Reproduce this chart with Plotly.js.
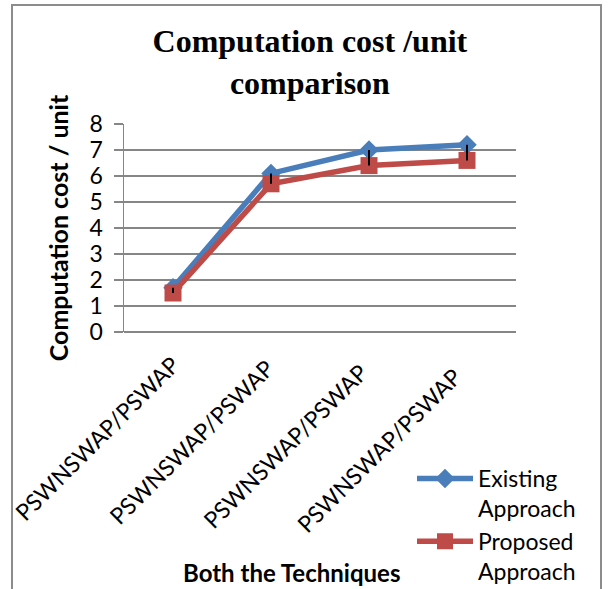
<!DOCTYPE html>
<html>
<head>
<meta charset="utf-8">
<script src="https://cdn.plot.ly/plotly-3.0.1.min.js"></script>
<style>
html,body{margin:0;padding:0;background:#fff;}
#chart{width:610px;height:589px;}
</style>
</head>
<body>
<div id="chart"></div>
<script>
const categories = ["PSWNSWAP/PSWAP", "PSWNSWAP/PSWAP ", "PSWNSWAP/PSWAP  ", "PSWNSWAP/PSWAP   "];
const existing = [1.7, 6.1, 7.0, 7.2];
const proposed = [1.5, 5.7, 6.4, 6.6];
const seriesNames = ["Existing<br>Approach", "Proposed<br>Approach"];
const xTitle = "Both the Techniques";
const yTitle = "Computation cost / unit";

const W = 610, H = 589;
const L = 124, R = 516, T = 124, B = 332;
const px2x = p => (p - L) / (R - L);
const py2y = p => (B - p) / (B - T);

const gap = existing.map((v, i) => v - proposed[i]);

const traces = [
  {
    x: categories, y: existing, name: seriesNames[0], type: 'scatter', mode: 'lines+markers',
    line: {color: '#4a7ebb', width: 5.5},
    marker: {symbol: 'diamond', size: 15, color: '#4a7ebb'}
  },
  {
    x: categories, y: proposed, name: seriesNames[1], type: 'scatter', mode: 'lines+markers',
    line: {color: '#be4b48', width: 5.5},
    marker: {symbol: 'square', size: 17, color: '#be4b48'}
  },
  {
    x: categories, y: proposed, type: 'scatter', mode: 'markers', showlegend: false, hoverinfo: 'skip',
    marker: {size: 1, color: 'rgba(0,0,0,0)'},
    error_y: {type: 'data', symmetric: false, array: gap, arrayminus: gap.map(() => 0), width: 0, thickness: 2, color: '#000'}
  }
];

const layout = {
  width: W, height: H,
  margin: {l: L, r: W - R, t: T, b: H - B, pad: 0, autoexpand: false},
  paper_bgcolor: '#fff', plot_bgcolor: '#fff',
  font: {family: 'Lato, "Noto Sans", sans-serif', size: 23, color: '#000'},
  title: {
    text: '<b>Computation cost /unit<br>comparison</b>',
    font: {family: '"Liberation Serif", "Times New Roman", serif', size: 32, color: '#000'},
    x: 0.508, xanchor: 'center', y: 1 - 52 / H, yanchor: 'middle', yref: 'container', automargin: false
  },
  xaxis: {
    type: 'category', range: [-0.5, 3.5], tickangle: -45, automargin: false,
    showgrid: false, zeroline: false, showline: false, ticks: '',
    tickfont: {size: 23}, ticklabelstandoff: 14
  },
  yaxis: {
    range: [0, 8], dtick: 1, showgrid: true, gridcolor: '#868686', gridwidth: 1.5, automargin: false,
    zeroline: true, zerolinecolor: '#868686', zerolinewidth: 1.5,
    showline: true, linecolor: '#868686', linewidth: 1.5,
    ticks: 'outside', ticklen: 9, tickcolor: '#868686', tickwidth: 1.5,
    tickfont: {size: 23}, ticklabelstandoff: 6,
    title: {text: '<b>' + yTitle + '</b>', font: {size: 25}, standoff: 14}
  },
  legend: {
    x: px2x(412), xanchor: 'left', y: py2y(457), yanchor: 'top',
    font: {size: 23}, valign: 'top', itemwidth: 56, tracegroupgap: 6,
    bgcolor: 'rgba(0,0,0,0)'
  },
  annotations: [{
    text: '<b>' + xTitle + '</b>', xref: 'paper', yref: 'paper',
    x: px2x(291), y: py2y(572), xanchor: 'center', yanchor: 'middle', showarrow: false,
    font: {size: 24}
  }],
  shapes: [{
    type: 'rect', xref: 'paper', yref: 'paper',
    x0: px2x(12), x1: px2x(601), y0: py2y(600), y1: py2y(5),
    line: {color: '#8c8c8c', width: 2}, fillcolor: 'rgba(0,0,0,0)', layer: 'below'
  }],
  showlegend: true
};

Plotly.newPlot('chart', traces, layout, {staticPlot: true, displayModeBar: false});
</script>
</body>
</html>
